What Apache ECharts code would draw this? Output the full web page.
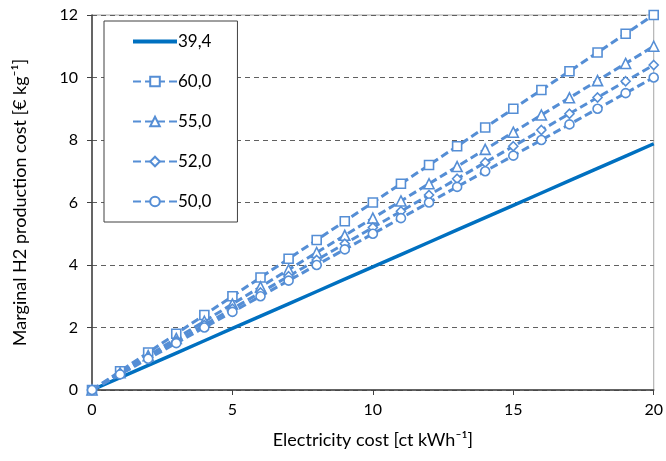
<!DOCTYPE html>
<html><head><meta charset="utf-8">
<script src="https://cdn.jsdelivr.net/npm/echarts@6/dist/echarts.min.js"></script>
<style>html,body{margin:0;padding:0;background:#fff}#c{width:666px;height:461px}</style>
</head><body><div id="c"></div>
<script>
const xValues = [0,1,2,3,4,5,6,7,8,9,10,11,12,13,14,15,16,17,18,19,20];
const s394 = [0,0.394,0.788,1.182,1.576,1.97,2.364,2.758,3.152,3.546,3.94,4.334,4.728,5.122,5.516,5.91,6.304,6.698,7.092,7.486,7.88];
const s600 = [0,0.6,1.2,1.8,2.4,3.0,3.6,4.2,4.8,5.4,6.0,6.6,7.2,7.8,8.4,9.0,9.6,10.2,10.8,11.4,12.0];
const s550 = [0,0.55,1.1,1.65,2.2,2.75,3.3,3.85,4.4,4.95,5.5,6.05,6.6,7.15,7.7,8.25,8.8,9.35,9.9,10.45,11.0];
const s520 = [0,0.52,1.04,1.56,2.08,2.6,3.12,3.64,4.16,4.68,5.2,5.72,6.24,6.76,7.28,7.8,8.32,8.84,9.36,9.88,10.4];
const s500 = [0,0.5,1.0,1.5,2.0,2.5,3.0,3.5,4.0,4.5,5.0,5.5,6.0,6.5,7.0,7.5,8.0,8.5,9.0,9.5,10.0];
const seriesNames = ['39,4','60,0','55,0','52,0','50,0'];
const xTicks = [0,5,10,15,20];
const yTicks = [0,2,4,6,8,10,12];

const font = 'Lato, "Open Sans", sans-serif';
const lightBlue = '#558ED5';
const darkBlue = '#0070C0';
function pairs(arr){ return xValues.map((x,i)=>[x,arr[i]]); }
function dashed(name, data, symbol){
  return {name, type:'line', data:pairs(data), symbol, symbolSize: symbol==='triangle'?10:9,
    lineStyle:{color:lightBlue,width:3,type:[8,4]},
    itemStyle:{color:'#fff',borderColor:lightBlue,borderWidth:1.6},
    emphasis:{disabled:true}, animation:false};
}
const chart = echarts.init(document.getElementById('c'));
chart.setOption({
  animation:false,
  textStyle:{fontFamily:font},
  grid:{left:92,right:11,top:15,bottom:71,show:true,borderColor:'#a6a6a6',borderWidth:1},
  legend:{
    orient:'vertical', left:104, top:21, padding:[12,26,12,28],
    borderColor:'#404040', borderWidth:1, backgroundColor:'#fff',
    itemWidth:44, itemHeight:12, itemGap:23,
    textStyle:{fontFamily:font,fontSize:17,color:'#000',padding:[0,0,0,-4]},
    data:[{name:'39,4',icon:'path://M0,0H44V4H0Z',itemStyle:{color:darkBlue}},'60,0','55,0','52,0','50,0']
  },
  xAxis:{type:'value',min:0,max:20,interval:5,
    name:'Electricity cost [ct kWh\u207B\u00B9]', nameLocation:'middle', nameGap:41,
    nameTextStyle:{fontFamily:font,fontSize:18,color:'#000'},
    axisLine:{lineStyle:{color:'#404040',width:1.5}},
    axisTick:{show:true,length:5,lineStyle:{color:'#404040'}},
    axisLabel:{fontFamily:font,fontSize:16,color:'#000',margin:12},
    splitLine:{show:false}},
  yAxis:{type:'value',min:0,max:12,interval:2,
    name:'Marginal H2 production cost [\u20AC kg\u207B\u00B9]', nameLocation:'middle', nameGap:63,
    nameTextStyle:{fontFamily:font,fontSize:18,color:'#000'},
    axisLine:{show:true,lineStyle:{color:'#404040',width:1.5}},
    axisTick:{show:true,length:5,lineStyle:{color:'#404040'}},
    axisLabel:{fontFamily:font,fontSize:16,color:'#000',margin:14},
    splitLine:{show:true,lineStyle:{color:'#606060',type:[5,4],width:1}}},
  series:[
    {name:'39,4',type:'line',data:pairs(s394),symbol:'none',
      lineStyle:{color:darkBlue,width:3.5},itemStyle:{color:darkBlue},emphasis:{disabled:true},z:3},
    dashed('60,0',s600,'rect'),
    dashed('55,0',s550,'triangle'),
    dashed('52,0',s520,'diamond'),
    dashed('50,0',s500,'circle')
  ]
});
</script></body></html>
